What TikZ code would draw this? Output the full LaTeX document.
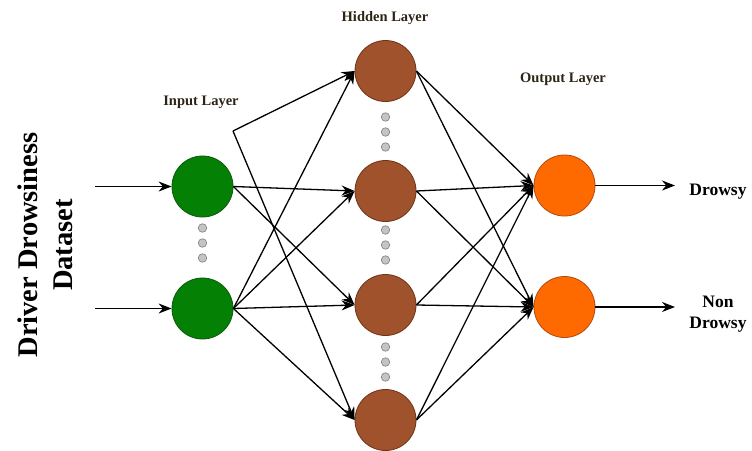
\documentclass[tikz,border=0pt]{standalone}
\usepackage{fontspec}
\setmainfont{Liberation Serif}
\usetikzlibrary{arrows.meta}
\definecolor{ingreen}{HTML}{048004}
\definecolor{ingreenb}{HTML}{0B5A0B}
\definecolor{hidbrown}{HTML}{A0522D}
\definecolor{hidbrownb}{HTML}{6E3315}
\definecolor{outorange}{HTML}{FF6A00}
\definecolor{outorangeb}{HTML}{B34A10}
\definecolor{dotgray}{HTML}{C4C4C4}
\definecolor{dotgrayb}{HTML}{7E7E7E}
\definecolor{lbl}{HTML}{2E2416}
\tikzset{
  neuron/.style={circle, minimum size=61pt, inner sep=0pt, line width=0.8pt},
  inneuron/.style={neuron, fill=ingreen, draw=ingreenb},
  hidneuron/.style={neuron, fill=hidbrown, draw=hidbrownb},
  outneuron/.style={neuron, fill=outorange, draw=outorangeb},
  gdot/.style={circle, minimum size=8.5pt, inner sep=0pt, fill=dotgray, draw=dotgrayb, line width=0.6pt},
  conn/.style={line width=1.3pt, -{Stealth[length=13pt,width=10pt]}},
  layerlbl/.style={font=\fontsize{14.5}{17}\selectfont\bfseries, text=lbl},
  classlbl/.style={font=\fontsize{17.5}{21}\selectfont\bfseries, align=center},
}
\begin{document}
\begin{tikzpicture}[x=1pt,y=-1pt]
\useasboundingbox (0,0) rectangle (752,450);
% layer labels
\node[layerlbl] (lh) at (385,18) {Hidden Layer};
\node[layerlbl] (li) at (201,102) {Input Layer};
\node[layerlbl] (lo) at (563,79) {Output Layer};
% dataset label
\node[font=\fontsize{28.5}{35}\selectfont\bfseries, rotate=90, align=center] (ds) at (45,245) {Driver Drowsiness\\Dataset};
% input neurons
\node[inneuron] (i1) at (202.5,186.5) {};
\node[inneuron] (i2) at (202.5,308.5) {};
% hidden neurons
\node[hidneuron] (h1) at (385.5,71) {};
\node[hidneuron] (h2) at (385.5,191) {};
\node[hidneuron] (h3) at (385.5,305) {};
\node[hidneuron] (h4) at (385.5,420) {};
% output neurons
\node[outneuron] (o1) at (564.5,185.5) {};
\node[outneuron] (o2) at (564.5,307) {};
% dots
\node[gdot] (d1) at (202.5,228) {};
\node[gdot] (d2) at (202.5,243) {};
\node[gdot] (d3) at (202.5,258) {};
\node[gdot] (d4) at (385.5,117) {};
\node[gdot] (d5) at (385.5,132) {};
\node[gdot] (d6) at (385.5,147) {};
\node[gdot] (d7) at (385.5,230) {};
\node[gdot] (d8) at (385.5,245) {};
\node[gdot] (d9) at (385.5,260) {};
\node[gdot] (d10) at (385.5,347) {};
\node[gdot] (d11) at (385.5,362) {};
\node[gdot] (d12) at (385.5,377) {};
% class labels
\node[classlbl] (c1) at (718,192) {Drowsy};
\node[classlbl] (c2) at (718,314) {Non\\Drowsy};
% input arrows
\coordinate (s1) at (95,186.5);
\coordinate (s2) at (95,308.5);
\draw[conn] (s1) -- (i1.west);
\draw[conn] (s2) -- (i2.west);
% output arrows
\coordinate (e1) at (675,185.5);
\coordinate (e2) at (675,307);
\draw[conn] (o1.east) -- (e1);
\draw[conn] (o2.east) -- (e2);
% input -> hidden
\coordinate (v) at (233,131);
\draw[conn] (v) -- (h1.west);
\draw[conn] (v) -- (h4.west);
\draw[conn] (i1.east) -- (h2.west);
\draw[conn] (i1.east) -- (h3.west);
\foreach \h in {h1,h2,h3,h4}{
  \draw[conn] (i2.east) -- (\h.west);
}
% hidden -> output
\foreach \h in {h1,h2,h3,h4}{
  \draw[conn] (\h.east) -- (o1.west);
  \draw[conn] (\h.east) -- (o2.west);
}
\end{tikzpicture}
\end{document}
